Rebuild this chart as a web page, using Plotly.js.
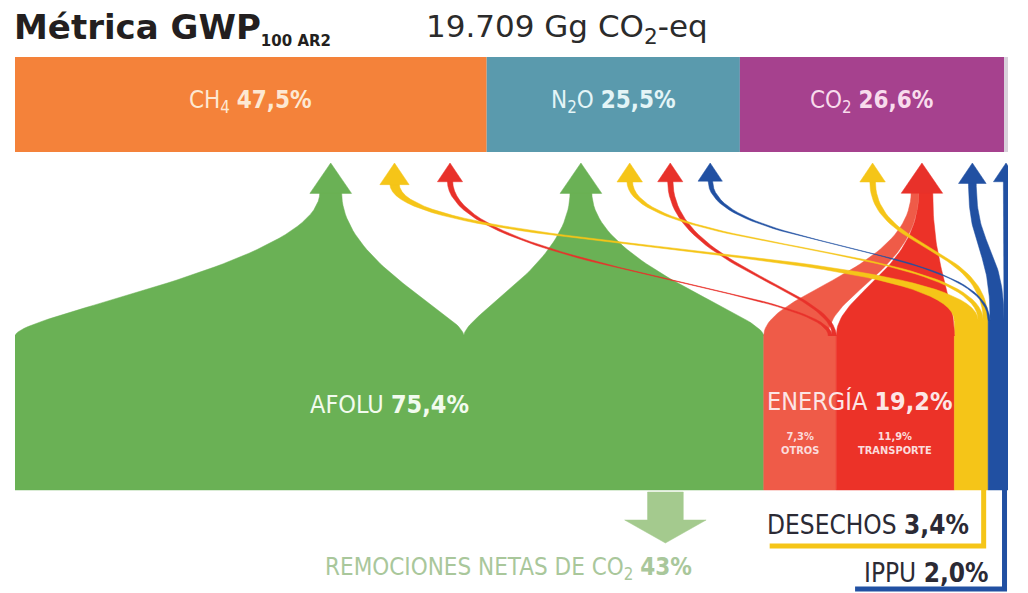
<!DOCTYPE html>
<html>
<head>
<meta charset="utf-8">
<script src="https://cdn.plot.ly/plotly-3.0.1.min.js"></script>
<style>
  html, body { margin: 0; padding: 0; background: #ffffff; }
  #chart { width: 1028px; height: 593px; }
</style>
</head>
<body>
<div id="chart"></div>
<script>
// Emisiones por gas (barra superior), % del total
const gasLabels = ['CH<sub>4</sub>', 'N<sub>2</sub>O', 'CO<sub>2</sub>', 'Otros'];
const gasShare = [47.5, 25.5, 26.6, 0.4];

// Emisiones por sector (bloque inferior), % del total
const sectorLabels = ['AFOLU', 'OTROS', 'TRANSPORTE', 'DESECHOS', 'IPPU'];
const sectorShare = [75.4, 7.3, 11.9, 3.4, 2.0];
// familia de cada sector: 0 AFOLU, 1 Desechos, 2 Energía, 3 IPPU
const sectorFamily = [0, 2, 2, 1, 3];

// Flujos sector -> gas (% del total)
const flowSource = [0, 0, 1, 1, 1, 2, 3, 3, 3, 4, 4, 4];
const flowTarget = [0, 1, 0, 1, 2, 2, 0, 1, 2, 1, 2, 3];
const flowValue = [45.2, 30.2, 0.4, 0.4, 6.5, 11.9, 2.4, 0.5, 0.5, 0.2, 1.4, 0.4];

const totalGg = '19.709';
const removalShare = 43;

// ---- estilo y posiciones (px en el eje y) ----
const FONT_C = '"DejaVu Sans Condensed", "Liberation Sans Narrow", Roboto, sans-serif';
const GAS_COLORS = ['#F4823A', '#5A9AAD', '#A6418E', '#D8D0DA'];
const SECTOR_COLORS = ['#6AB155', '#EF5B48', '#EC3228', '#F5C518', '#2150A2'];
const FAMILY_COLORS = ['#6AB155', '#F5C518', '#E8312A', '#2150A2'];
const BAR_TOP = 57, BAR_BOTTOM = 152, ARROW_TIP = 163, BLOCK_BOTTOM = 490;
const SOURCE_TOP = [335, 335, 335, 320, 320];
const SOURCE_CURVE = [[0.15, 0.5], [0.3, 0.55], [0.3, 0.55], [0.55, 0.5], [0.55, 0.5]];

const fmt = v => v.toFixed(1).replace('.', ',');
const cumStart = arr => arr.map((_, i) => arr.slice(0, i).reduce((a, b) => a + b, 0));
const gasStart = cumStart(gasShare);
const sectorStart = cumStart(sectorShare);

const stemW = v => Math.min(2.2, 0.25 + 0.45 * Math.sqrt(v));
const bez = (p0, p1, p2, p3, t) => {
    const u = 1 - t;
    return u * u * u * p0 + 3 * u * u * t * p1 + 3 * u * t * t * p2 + t * t * t * p3;
};
const poly = (x, y, c) => ({
    type: 'scatter', mode: 'lines', x: x, y: y, fill: 'toself',
    fillcolor: c, line: { width: 0.5, color: c }, hoverinfo: 'skip', showlegend: false
});

// agrupar flujos en flechas (gas + familia)
const arrows = [];
flowValue.forEach((v, i) => {
    const t = flowTarget[i], f = sectorFamily[flowSource[i]];
    let a = arrows.find(a => a.target === t && a.family === f);
    if (!a) { a = { target: t, family: f, value: 0, flows: [] }; arrows.push(a); }
    a.value += v;
    a.flows.push(i);
});

// posición de flechas dentro de cada gas, alineadas a la derecha
gasShare.forEach((s, g) => {
    const list = arrows.filter(a => a.target === g).sort((a, b) => a.family - b.family);
    list.forEach(a => { a.w = stemW(a.value); a.half = a.w / 2 + 1.0; a.base = ARROW_TIP + 14 + 7 * a.w; });
    if (s < 2) { list.forEach(a => { a.x = gasStart[g] + s / 2; }); return; }
    let cursor = gasStart[g] + s - (0.03 * s + 1.0);
    const gap = 0.06 * s;
    for (let k = list.length - 1; k >= 0; k--) {
        const a = list[k];
        a.x = cursor - a.half;
        cursor = a.x - a.half - gap;
    }
});

// tramo de cada flujo en la flecha (tallo)
const flowTop0 = [], flowTop1 = [], flowTopY = [];
arrows.forEach(a => {
    let x = a.x - a.w / 2;
    a.flows.slice().sort((i, j) => flowSource[i] - flowSource[j]).forEach(i => {
        const w = a.w * flowValue[i] / a.value;
        flowTop0[i] = x; flowTop1[i] = x + w; flowTopY[i] = a.base;
        x += w;
    });
});

// tramo de cada flujo en su sector (base); en Energía los flujos finos van a la derecha
const sliceKey = i => (sectorFamily[flowSource[i]] === 2 && flowValue[i] < 1 ? 1000 : 0) + flowTop0[i];
const flowBot0 = [], flowBot1 = [];
sectorShare.forEach((s, src) => {
    let x = sectorStart[src];
    flowValue.map((v, i) => i).filter(i => flowSource[i] === src)
        .sort((i, j) => sliceKey(i) - sliceKey(j))
        .forEach(i => { flowBot0[i] = x; flowBot1[i] = x + flowValue[i]; x += flowValue[i]; });
});

const traces = [];

// barra superior por gas
gasShare.forEach((s, g) => traces.push({
    type: 'bar', orientation: 'h', base: [gasStart[g]], x: [s],
    y: [(BAR_TOP + BAR_BOTTOM) / 2], width: [BAR_BOTTOM - BAR_TOP],
    marker: { color: GAS_COLORS[g], line: { width: 0 } }, hoverinfo: 'skip', showlegend: false
}));

// bloques de sector
sectorShare.forEach((s, i) => {
    const x0 = sectorStart[i], x1 = x0 + s;
    traces.push(poly([x0, x1, x1, x0, x0], [BLOCK_BOTTOM, BLOCK_BOTTOM, SOURCE_TOP[i], SOURCE_TOP[i], BLOCK_BOTTOM], SECTOR_COLORS[i]));
});

// flujos y puntas de flecha, por familia
[0, 2, 1, 3].forEach(fam => {
    flowValue.map((v, i) => i)
        .filter(i => sectorFamily[flowSource[i]] === fam)
        .sort((i, j) => flowValue[j] - flowValue[i])
        .forEach(i => {
            const src = flowSource[i];
            const ys = SOURCE_TOP[src] + 1, yt = flowTopY[i], h = ys - yt;
            const [c1, c2] = SOURCE_CURVE[src];
            const X = [], Yv = [], N = 48;
            for (let k = 0; k <= N; k++) {
                const t = k / N;
                X.push(bez(flowBot0[i], flowBot0[i], flowTop0[i], flowTop0[i], t));
                Yv.push(bez(ys, ys - c1 * h, yt + c2 * h, yt, t));
            }
            for (let k = N; k >= 0; k--) {
                const t = k / N;
                X.push(bez(flowBot1[i], flowBot1[i], flowTop1[i], flowTop1[i], t));
                Yv.push(bez(ys, ys - c1 * h, yt + c2 * h, yt, t));
            }
            const color = flowValue[i] < 1 ? FAMILY_COLORS[fam] : SECTOR_COLORS[src];
            traces.push(poly(X, Yv, color));
        });
    arrows.filter(a => a.family === fam).forEach(a => {
        traces.push(poly([a.x - a.half, a.x + a.half, a.x, a.x - a.half],
            [a.base + 1, a.base + 1, ARROW_TIP, a.base + 1], FAMILY_COLORS[fam]));
    });
});

// flecha de remociones
const RX = 65.5;
traces.push(poly([RX - 1.8, RX + 1.8, RX + 1.8, RX + 4.1, RX, RX - 4.1, RX - 1.8, RX - 1.8],
    [BLOCK_BOTTOM + 2, BLOCK_BOTTOM + 2, 520, 520, 543, 520, 520, BLOCK_BOTTOM + 2], '#A4CA8E'));

// líneas hacia las etiquetas de Desechos e IPPU
const desX = sectorStart[3] + sectorShare[3] - 0.45;
const ippX = sectorStart[4] + sectorShare[4] - 0.35;
traces.push({ type: 'scatter', mode: 'lines', x: [desX, desX, 76.0], y: [BLOCK_BOTTOM - 2, 546, 546],
    line: { color: SECTOR_COLORS[3], width: 5 }, hoverinfo: 'skip', showlegend: false });
traces.push({ type: 'scatter', mode: 'lines', x: [ippX, ippX, 84.6], y: [BLOCK_BOTTOM - 2, 589, 589],
    line: { color: SECTOR_COLORS[4], width: 5 }, hoverinfo: 'skip', showlegend: false });

// textos
const ann = (text, x, y, size, color, extra) => Object.assign({
    text: text, x: x, y: y, xref: 'x', yref: 'y', showarrow: false,
    xanchor: 'center', yanchor: 'middle', font: { family: FONT_C, size: size, color: color }
}, extra || {});

const annotations = [
    ann('<b>Métrica GWP</b><sub><span style="font-size:15px"><b>100 AR2</b></span></sub>', -0.003, 28, 34, '#231F20',
        { xref: 'paper', xanchor: 'left', font: { family: '"DejaVu Sans", sans-serif', size: 34, color: '#231F20' } }),
    ann(`${totalGg} Gg CO<sub>2</sub>-eq`, 0.412, 28, 31, '#2B2B2B',
        { xref: 'paper', xanchor: 'left', font: { family: '"DejaVu Sans", sans-serif', size: 31, color: '#2B2B2B' } })
];
const gasTextColors = ['#FDE8D2', '#E4F5F7', '#F8DCEC'];
gasShare.slice(0, 3).forEach((s, g) => annotations.push(
    ann(`${gasLabels[g]} <b>${fmt(s)}%</b>`, gasStart[g] + s / 2, 101, 24, gasTextColors[g])));

annotations.push(ann(`${sectorLabels[0]} <b>${fmt(sectorShare[0])}%</b>`, sectorShare[0] / 2, 404, 25, '#F2FBEE'));
const energy = sectorShare[1] + sectorShare[2];
annotations.push(ann(`ENERGÍA <b>${fmt(energy)}%</b>`, sectorStart[1] + energy / 2, 401, 25, '#FCE6E6'));
[1, 2].forEach(i => annotations.push(
    ann(`<b>${fmt(sectorShare[i])}%<br>${sectorLabels[i]}</b>`, sectorStart[i] + sectorShare[i] / 2, 443, 11, '#FBDCDC')));
annotations.push(ann(`${sectorLabels[3]} <b>${fmt(sectorShare[3])}%</b>`, 96.3, 525, 26, '#2B2A35', { xanchor: 'right' }));
annotations.push(ann(`${sectorLabels[4]} <b>${fmt(sectorShare[4])}%</b>`, 98.3, 573, 26, '#2B2A35', { xanchor: 'right' }));
annotations.push(ann(`REMOCIONES NETAS DE CO<sub>2</sub> <b>${removalShare}%</b>`, 49.7, 568, 24, '#A9C79B'));

const layout = {
    width: 1028, height: 593,
    margin: { l: 15, r: 20, t: 0, b: 0 },
    font: { family: FONT_C, size: 14, color: '#231F20' },
    paper_bgcolor: '#ffffff', plot_bgcolor: '#ffffff',
    barmode: 'overlay', showlegend: false,
    xaxis: { range: [0, 100], visible: false, fixedrange: true },
    yaxis: { range: [593, 0], visible: false, fixedrange: true },
    annotations: annotations
};

Plotly.newPlot('chart', traces, layout, { displayModeBar: false, staticPlot: true });
</script>
</body>
</html>
